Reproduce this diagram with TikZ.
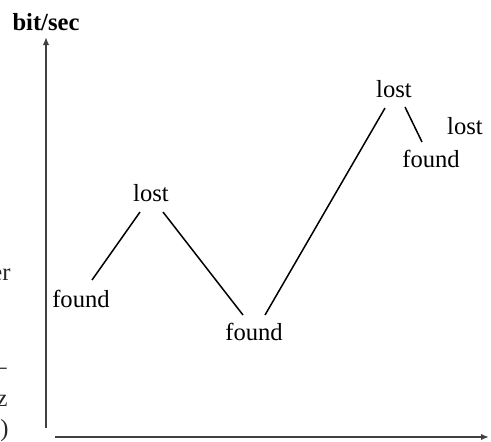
\documentclass[tikz,border=0pt]{standalone}
\usepackage{fontspec}
\setmainfont{Liberation Serif}
\usetikzlibrary{arrows.meta}
\begin{document}
\begin{tikzpicture}[x=0.5pt,y=-0.5pt,
  lbl/.style={inner sep=0pt, font=\fontsize{12.3}{14}\selectfont},
  frag/.style={inner sep=0pt, font=\fontsize{12.3}{14}\selectfont, text=black!85},
  axis/.style={line width=1pt, draw=black!75, -{Latex[length=4pt,width=3.2pt]}},
  seg/.style={line width=0.75pt}]
\useasboundingbox (0,0) rectangle (491,441);
% axes
\coordinate (yb) at (46,428);
\coordinate (yt) at (46,37);
\coordinate (xl) at (55,437);
\coordinate (xr) at (489,437);
\draw[axis] (yb) -- (yt);
\draw[axis] (xl) -- (xr);
\node[lbl, font=\fontsize{12.3}{14}\selectfont\bfseries] (ylab) at (46,22) {bit/sec};
% labels
\node[lbl] (f1) at (81,299) {found};
\node[lbl] (l1) at (151,193) {lost};
\node[lbl] (f2) at (254,332) {found};
\node[lbl] (l2) at (394,89) {lost};
\node[lbl] (f3) at (431,159) {found};
\node[lbl] (l3) at (465,126) {lost};
% segment end points
\coordinate (a1) at (92,280);
\coordinate (a2) at (140,212);
\coordinate (b1) at (163,212);
\coordinate (b2) at (243,315);
\coordinate (c1) at (265,315);
\coordinate (c2) at (385,108);
\coordinate (d1) at (405,107);
\coordinate (d2) at (422,142);
\draw[seg] (a1) -- (a2);
\draw[seg] (b1) -- (b2);
\draw[seg] (c1) -- (c2);
\draw[seg] (d1) -- (d2);
% cut-off fragments of neighbouring text at the left edge
\node[frag, anchor=east] (g1) at (11,275) {er};
\node[frag, anchor=east] (g2) at (7,371) {–};
\node[frag, anchor=east] (g3) at (8,401) {z};
\node[frag, anchor=east] (g4) at (9,431) {)};
\end{tikzpicture}
\end{document}
